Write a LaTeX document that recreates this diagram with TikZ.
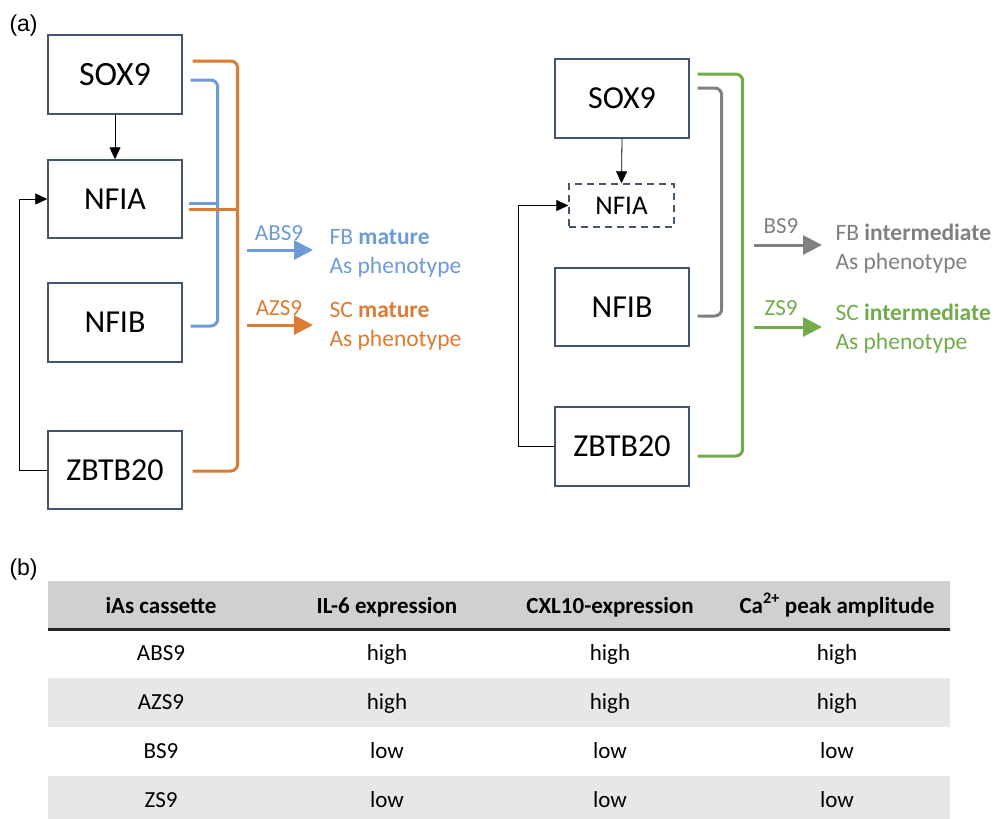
\documentclass[tikz,border=0pt]{standalone}
\usepackage{fontspec}
\setmainfont{Carlito}
\newfontfamily\arialfont{Liberation Sans}
\usetikzlibrary{arrows.meta,calc}
\definecolor{boxgrey}{RGB}{68,84,106}
\definecolor{cblue}{RGB}{108,155,215}
\definecolor{corange}{RGB}{220,123,50}
\definecolor{cgreen}{RGB}{114,172,72}
\definecolor{cgrey}{RGB}{128,128,128}
\definecolor{headgrey}{RGB}{208,208,208}
\definecolor{rowgrey}{RGB}{231,231,231}
\definecolor{rulegrey}{RGB}{38,38,38}
\tikzset{
  gene/.style={draw=boxgrey, line width=1.4pt, minimum width=134pt, minimum height=78pt, inner sep=0pt, font=\fontsize{32}{38}\selectfont},
  brk/.style={line width=3pt, rounded corners=7pt},
  reg/.style={draw=black, line width=0.8pt, -{Triangle[length=12pt,width=11pt]}},
  outarrow/.style={line width=3pt, -{Triangle[length=19pt,width=19pt]}},
  lbl/.style={font=\fontsize{23}{28}\selectfont, anchor=base},
  pheno/.style={font=\fontsize{23.5}{28}\selectfont, anchor=base west},
  cell/.style={font=\fontsize{23}{28}\selectfont, anchor=base},
}
\begin{document}
\begin{tikzpicture}[x=1pt, y=-1pt]
\useasboundingbox (0,0) rectangle (994,819);
\node[font=\arialfont\fontsize{23}{28}\selectfont, anchor=base west] (tagA) at (6,31) {(a)};
\node[font=\arialfont\fontsize{23}{28}\selectfont, anchor=base west] (tagB) at (6,575) {(b)};

% left panel
\node[gene, minimum height=79pt, font=\fontsize{34}{40}\selectfont] (lsox) at (115,74.5) {SOX9};
\node[gene] (lnfia) at (115,199) {NFIA};
\node[gene, minimum height=79pt] (lnfib) at (115,322.5) {NFIB};
\node[gene] (lzbtb) at (115,470) {ZBTB20};
\draw[reg] (lsox.south) -- (lnfia.north);
\draw[reg] (lzbtb.west) -- ++(-28,0) |- (lnfia.west);
\draw[brk, color=cblue] ($(lsox.east)+(8,5.5)$) -- ++(27,0) |- ($(lnfib.east)+(8,3.5)$);
\draw[line width=3pt, color=cblue] ($(lnfia.east)+(6,4)$) -- ++(29,0);
\draw[brk, color=corange] ($(lsox.east)+(10,-13.5)$) -- ++(45,0) |- ($(lzbtb.east)+(10,1)$);
\draw[line width=3pt, color=corange] ($(lnfia.east)+(6,10)$) -- ++(49,0);

\coordinate (abs9s) at (247,250);
\coordinate (abs9e) at (313,250);
\coordinate (azs9s) at (247,325);
\coordinate (azs9e) at (313,325);
\draw[outarrow, color=cblue] (abs9s) -- (abs9e);
\draw[outarrow, color=corange] (azs9s) -- (azs9e);
\node[lbl, color=cblue] (abs9) at (279,240) {ABS9};
\node[lbl, color=corange] (azs9) at (279,315) {AZS9};
\node[pheno, color=cblue] (lfb) at (326,244) {FB \textbf{mature}};
\node[pheno, color=cblue] (lfbas) at (326,273) {As phenotype};
\node[pheno, color=corange] (lsc) at (326,317) {SC \textbf{mature}};
\node[pheno, color=corange] (lscas) at (326,346) {As phenotype};

% right panel
\node[gene, minimum height=79pt, font=\fontsize{32}{38}\selectfont] (rsox) at (622,98.5) {SOX9};
\node[gene, dash pattern=on 7pt off 5pt, minimum width=105pt, minimum height=43pt, font=\fontsize{27}{32}\selectfont] (rnfia) at (621.5,205.5) {NFIA};
\node[gene] (rnfib) at (622,307) {NFIB};
\node[gene, minimum height=79pt] (rzbtb) at (622,446.5) {ZBTB20};
\draw[reg] (rsox.south) -- (rnfia.north);
\draw[reg] (rzbtb.west) -- ++(-36,0) |- (rnfia.west);
\draw[brk, color=cgrey] ($(rsox.east)+(8,-10.5)$) -- ++(24,0) |- ($(rnfib.east)+(8,9)$);
\draw[brk, color=cgreen] ($(rsox.east)+(8,-24.5)$) -- ++(45,0) |- ($(rzbtb.east)+(8,9.5)$);

\coordinate (bs9s) at (754,245);
\coordinate (bs9e) at (822,245);
\coordinate (zs9s) at (754,327);
\coordinate (zs9e) at (822,327);
\draw[outarrow, color=cgrey] (bs9s) -- (bs9e);
\draw[outarrow, color=cgreen] (zs9s) -- (zs9e);
\node[lbl, color=cgrey] (bs9) at (781,233) {BS9};
\node[lbl, color=cgreen] (zs9) at (781,315) {ZS9};
\node[pheno, color=cgrey] (rfb) at (832,240) {FB \textbf{intermediate}};
\node[pheno, color=cgrey] (rfbas) at (832,269) {As phenotype};
\node[pheno, color=cgreen] (rsc) at (832,320) {SC \textbf{intermediate}};
\node[pheno, color=cgreen] (rscas) at (832,349) {As phenotype};

% table
\fill[headgrey] (48,581) rectangle (950,628);
\fill[rowgrey] (48,678) rectangle (950,727);
\fill[rowgrey] (48,776) rectangle (950,819);
\foreach \xs in {275,500,724}
  \draw[line width=0.8pt, color=black!18] (\xs,581) -- (\xs,628);
\draw[line width=2.5pt, color=rulegrey] (48,629.5) -- (950,629.5);
\node[cell, font=\bfseries\fontsize{23}{28}\selectfont] (hd1) at (161,613) {iAs cassette};
\node[cell, font=\bfseries\fontsize{23}{28}\selectfont] (hd2) at (387,613) {IL-6 expression};
\node[cell, font=\bfseries\fontsize{23}{28}\selectfont] (hd3) at (610,613) {CXL10-expression};
\node[cell, font=\bfseries\fontsize{23}{28}\selectfont] (hd4) at (837,613) {Ca\textsuperscript{2+} peak amplitude};
\foreach \nm/\va/\vb/\vc/\yy in {ABS9/high/high/high/660, AZS9/high/high/high/709, BS9/low/low/low/758, ZS9/low/low/low/807} {
  \node[cell] (c1\nm) at (161,\yy) {\nm};
  \node[cell] (c2\nm) at (387,\yy) {\va};
  \node[cell] (c3\nm) at (610,\yy) {\vb};
  \node[cell] (c4\nm) at (837,\yy) {\vc};
}
\end{tikzpicture}
\end{document}
